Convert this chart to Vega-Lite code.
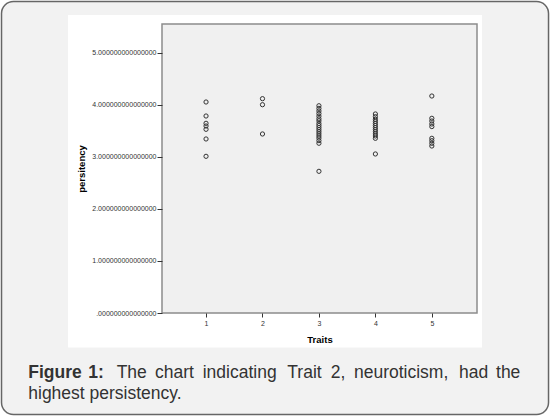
{
  "$schema": "https://vega.github.io/schema/vega-lite/v6.json",
  "width": 315,
  "height": 289,
  "autosize": {"type": "none"},
  "padding": {"left": 162, "top": 24, "right": 73, "bottom": 103},
  "background": "white",
  "config": {"view": {"stroke": null}, "font": "Liberation Sans"},
  "layer": [
    {
      "data": {"values": [{}]},
      "mark": {"type": "rect", "fill": "#f2f2f2", "stroke": "#666666", "strokeWidth": 1.5, "cornerRadius": 12},
      "encoding": {
        "x": {"datum": -2.623, "type": "quantitative"},
        "x2": {"datum": 7.067},
        "y": {"datum": 5.982, "type": "quantitative"},
        "y2": {"datum": -1.949}
      }
    },
    {
      "data": {"values": [{}]},
      "mark": {"type": "rect", "fill": "#ffffff"},
      "encoding": {
        "x": {"datum": -1.445, "type": "quantitative"},
        "x2": {"datum": 5.889},
        "y": {"datum": 5.723, "type": "quantitative"},
        "y2": {"datum": -0.663}
      }
    },
    {
      "data": {"values": [{}]},
      "mark": {"type": "rect", "fill": "#f0f0f0", "stroke": "#8c8c8c", "strokeWidth": 1.5},
      "encoding": {
        "x": {"datum": 0.22, "type": "quantitative"},
        "x2": {"datum": 5.8},
        "y": {"datum": 0, "type": "quantitative"},
        "y2": {"datum": 5.55}
      }
    },
    {
      "data": {
        "values": [
          {"trait": 1, "persistency": 4.052},
          {"trait": 1, "persistency": 3.783},
          {"trait": 1, "persistency": 3.643},
          {"trait": 1, "persistency": 3.591},
          {"trait": 1, "persistency": 3.528},
          {"trait": 1, "persistency": 3.342},
          {"trait": 1, "persistency": 3.009},
          {"trait": 2, "persistency": 4.116},
          {"trait": 2, "persistency": 4.0},
          {"trait": 2, "persistency": 3.438},
          {"trait": 3, "persistency": 3.98},
          {"trait": 3, "persistency": 3.93},
          {"trait": 3, "persistency": 3.88},
          {"trait": 3, "persistency": 3.83},
          {"trait": 3, "persistency": 3.78},
          {"trait": 3, "persistency": 3.73},
          {"trait": 3, "persistency": 3.69},
          {"trait": 3, "persistency": 3.64},
          {"trait": 3, "persistency": 3.6},
          {"trait": 3, "persistency": 3.56},
          {"trait": 3, "persistency": 3.52},
          {"trait": 3, "persistency": 3.48},
          {"trait": 3, "persistency": 3.44},
          {"trait": 3, "persistency": 3.4},
          {"trait": 3, "persistency": 3.36},
          {"trait": 3, "persistency": 3.31},
          {"trait": 3, "persistency": 3.26},
          {"trait": 3, "persistency": 2.721},
          {"trait": 4, "persistency": 3.822},
          {"trait": 4, "persistency": 3.77},
          {"trait": 4, "persistency": 3.72},
          {"trait": 4, "persistency": 3.68},
          {"trait": 4, "persistency": 3.64},
          {"trait": 4, "persistency": 3.6},
          {"trait": 4, "persistency": 3.56},
          {"trait": 4, "persistency": 3.52},
          {"trait": 4, "persistency": 3.48},
          {"trait": 4, "persistency": 3.44},
          {"trait": 4, "persistency": 3.4},
          {"trait": 4, "persistency": 3.355},
          {"trait": 4, "persistency": 3.054},
          {"trait": 5, "persistency": 4.167},
          {"trait": 5, "persistency": 3.739},
          {"trait": 5, "persistency": 3.687},
          {"trait": 5, "persistency": 3.63},
          {"trait": 5, "persistency": 3.58},
          {"trait": 5, "persistency": 3.355},
          {"trait": 5, "persistency": 3.309},
          {"trait": 5, "persistency": 3.259},
          {"trait": 5, "persistency": 3.207}
        ]
      },
      "mark": {"type": "point", "shape": "circle", "filled": false, "stroke": "#333333", "strokeWidth": 1, "size": 18, "opacity": 1},
      "encoding": {
        "x": {
          "field": "trait",
          "type": "quantitative",
          "scale": {"domain": [0.22, 5.8], "nice": false, "zero": false},
          "axis": {
            "title": "Traits",
            "values": [1, 2, 3, 4, 5],
            "format": "d",
            "domain": false,
            "grid": false,
            "zindex": 1,
            "tickSize": 4,
            "tickColor": "#333333",
            "labelFontSize": 7,
            "labelColor": "#333333",
            "labelPadding": 2,
            "titleFontSize": 9.5,
            "titleFontWeight": "bold",
            "titleColor": "#000000",
            "titlePadding": 8
          }
        },
        "y": {
          "field": "persistency",
          "type": "quantitative",
          "scale": {"domain": [0, 5.55], "nice": false, "zero": false},
          "axis": {
            "title": "persitency",
            "values": [0, 1, 2, 3, 4, 5],
            "labelExpr": "datum.value == 0 ? '.000000000000000' : format(datum.value, '.15f')",
            "domain": false,
            "grid": false,
            "zindex": 1,
            "tickSize": 5,
            "tickColor": "#333333",
            "labelFontSize": 7,
            "labelColor": "#333333",
            "labelPadding": 1,
            "titleFontSize": 9.5,
            "titleFontWeight": "bold",
            "titleColor": "#000000",
            "titlePadding": 5
          }
        }
      }
    },
    {
      "data": {"values": [{}]},
      "mark": {"type": "text", "align": "left", "baseline": "alphabetic", "fontSize": 17.5, "fontWeight": "bold", "color": "#333333"},
      "encoding": {"x": {"datum": -2.149, "type": "quantitative"}, "y": {"datum": -1.243, "type": "quantitative"}, "text": {"value": "Figure"}}
    },
    {
      "data": {"values": [{}]},
      "mark": {"type": "text", "align": "left", "baseline": "alphabetic", "fontSize": 17.5, "fontWeight": "bold", "color": "#333333"},
      "encoding": {"x": {"datum": -1.086, "type": "quantitative"}, "y": {"datum": -1.243, "type": "quantitative"}, "text": {"value": "1:"}}
    },
    {
      "data": {"values": [{}]},
      "mark": {"type": "text", "align": "left", "baseline": "alphabetic", "fontSize": 17.5, "color": "#333333"},
      "encoding": {"x": {"datum": -0.583, "type": "quantitative"}, "y": {"datum": -1.243, "type": "quantitative"}, "text": {"value": "The"}}
    },
    {
      "data": {"values": [{}]},
      "mark": {"type": "text", "align": "left", "baseline": "alphabetic", "fontSize": 17.5, "color": "#333333"},
      "encoding": {"x": {"datum": 0.096, "type": "quantitative"}, "y": {"datum": -1.243, "type": "quantitative"}, "text": {"value": "chart"}}
    },
    {
      "data": {"values": [{}]},
      "mark": {"type": "text", "align": "left", "baseline": "alphabetic", "fontSize": 17.5, "color": "#333333"},
      "encoding": {"x": {"datum": 0.941, "type": "quantitative"}, "y": {"datum": -1.243, "type": "quantitative"}, "text": {"value": "indicating"}}
    },
    {
      "data": {"values": [{}]},
      "mark": {"type": "text", "align": "left", "baseline": "alphabetic", "fontSize": 17.5, "color": "#333333"},
      "encoding": {"x": {"datum": 2.44, "type": "quantitative"}, "y": {"datum": -1.243, "type": "quantitative"}, "text": {"value": "Trait"}}
    },
    {
      "data": {"values": [{}]},
      "mark": {"type": "text", "align": "left", "baseline": "alphabetic", "fontSize": 17.5, "color": "#333333"},
      "encoding": {"x": {"datum": 3.209, "type": "quantitative"}, "y": {"datum": -1.243, "type": "quantitative"}, "text": {"value": "2,"}}
    },
    {
      "data": {"values": [{}]},
      "mark": {"type": "text", "align": "left", "baseline": "alphabetic", "fontSize": 17.5, "color": "#333333"},
      "encoding": {"x": {"datum": 3.62, "type": "quantitative"}, "y": {"datum": -1.243, "type": "quantitative"}, "text": {"value": "neuroticism,"}}
    },
    {
      "data": {"values": [{}]},
      "mark": {"type": "text", "align": "left", "baseline": "alphabetic", "fontSize": 17.5, "color": "#333333"},
      "encoding": {"x": {"datum": 5.481, "type": "quantitative"}, "y": {"datum": -1.243, "type": "quantitative"}, "text": {"value": "had"}}
    },
    {
      "data": {"values": [{}]},
      "mark": {"type": "text", "align": "left", "baseline": "alphabetic", "fontSize": 17.5, "color": "#333333"},
      "encoding": {"x": {"datum": 6.137, "type": "quantitative"}, "y": {"datum": -1.243, "type": "quantitative"}, "text": {"value": "the"}}
    },
    {
      "data": {"values": [{}]},
      "mark": {"type": "text", "align": "left", "baseline": "alphabetic", "fontSize": 17.5, "color": "#333333"},
      "encoding": {"x": {"datum": -2.149, "type": "quantitative"}, "y": {"datum": -1.652, "type": "quantitative"}, "text": {"value": "highest persistency."}}
    }
  ]
}
